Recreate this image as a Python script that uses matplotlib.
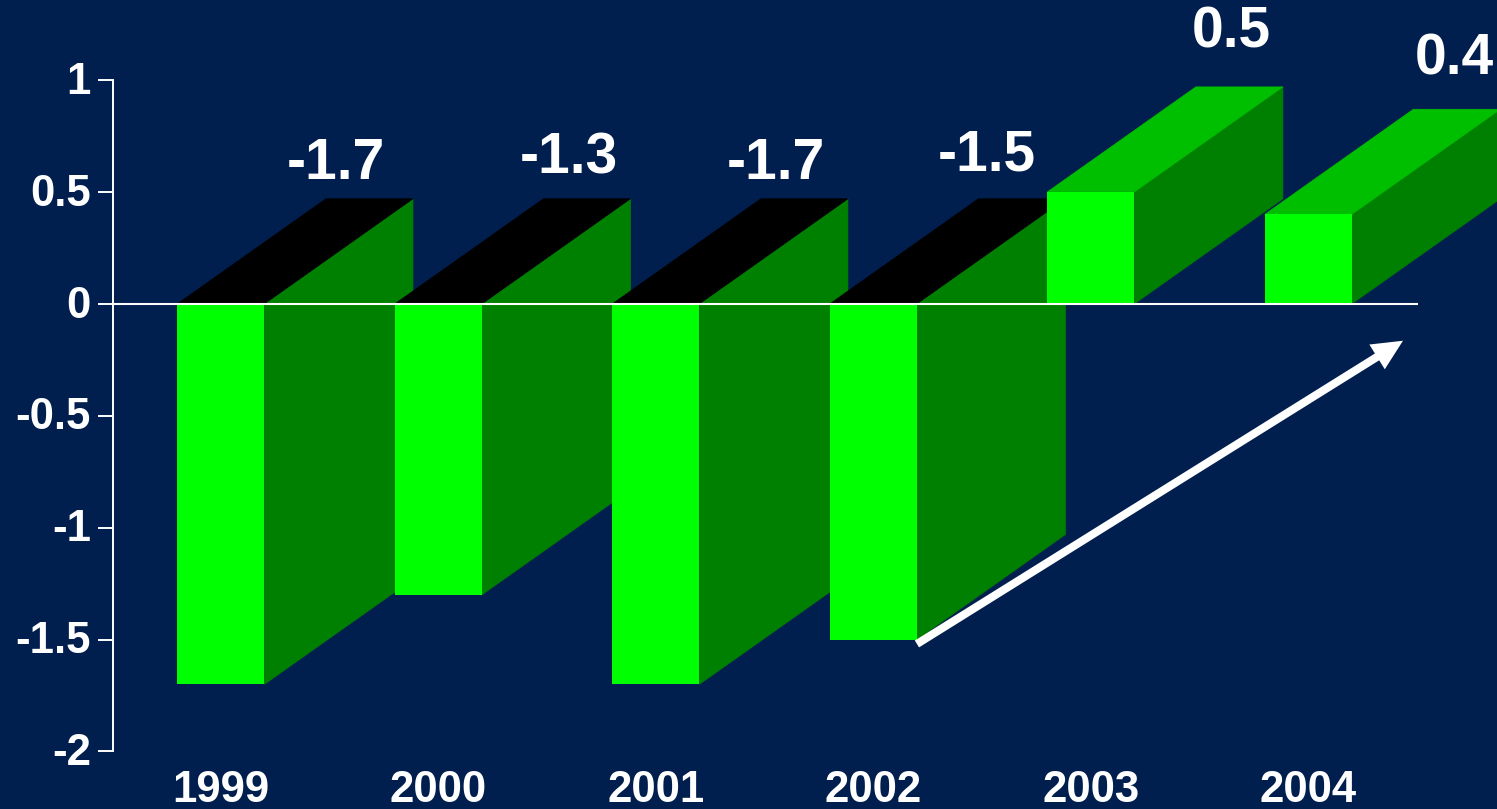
import matplotlib
matplotlib.use("Agg")
import matplotlib.pyplot as plt
from matplotlib.patches import Polygon
from matplotlib.transforms import ScaledTranslation

years = ["1999", "2000", "2001", "2002", "2003", "2004"]
values = [-1.7, -1.3, -1.7, -1.5, 0.5, 0.4]
y_ticks = [1, 0.5, 0, -0.5, -1, -1.5, -2]
y_tick_labels = ["1", "0.5", "0", "-0.5", "-1", "-1.5", "-2"]

BG = "#001E4E"
FRONT = "#00FF00"
SIDE = "#008000"
TOP_POS = "#00BF00"
TOP_NEG = "#000000"
WHITE = "#FFFFFF"

W, H, DPI = 1497, 809, 100
plt.rcParams["font.family"] = ["Liberation Sans", "DejaVu Sans"]
plt.rcParams["font.weight"] = "bold"

fig = plt.figure(figsize=(W / DPI, H / DPI), dpi=DPI, facecolor=BG)
ax = fig.add_axes([113 / W, 1 - 751.4 / H, 1305 / W, (751.4 - 80) / H], facecolor="none")

ax.set_xlim(-0.4965, 5.504)
ax.set_ylim(-2, 1)

bar_w = 87 / 217.5
dx = 148.5 / 217.5
dy = 105 / 223.8

for i, v in enumerate(values):
    z = 2 + i
    left, right = i - bar_w / 2, i + bar_w / 2
    top = max(v, 0)
    bottom = min(v, 0)
    # side face
    ax.add_patch(Polygon([(right, bottom), (right + dx, bottom + dy), (right + dx, top + dy), (right, top)],
                         closed=True, fc=SIDE, ec=SIDE, lw=0.5, zorder=z, clip_on=False))
    # top face
    ax.add_patch(Polygon([(left, top), (left + dx, top + dy), (right + dx, top + dy), (right, top)],
                         closed=True, fc=TOP_NEG if v < 0 else TOP_POS,
                         ec=TOP_NEG if v < 0 else TOP_POS, lw=0.5, zorder=z, clip_on=False))
    # front face
    ax.bar(i, v, width=bar_w, color=FRONT, zorder=z, clip_on=False)

# value labels: (dx, dy) offsets in points from the bar's front top centre
label_offsets = [(83, 100.3), (93.5, 104.8), (86, 100.3), (81.5, 106.8), (101, 114.8), (105, 111.3)]
for i, v in enumerate(values):
    off = label_offsets[i]
    ax.annotate(f"{v:g}", xy=(i, max(v, 0)), xytext=off, textcoords="offset points",
                ha="center", va="center", fontsize=41, fontweight="bold", color=WHITE,
                zorder=20, annotation_clip=False)

# axes
for s in ("top", "right", "bottom"):
    ax.spines[s].set_visible(False)
ax.spines["left"].set_color(WHITE)
ax.spines["left"].set_linewidth(1.4)
ax.spines["left"].set_zorder(15)
ax.axhline(0, color=WHITE, lw=1.5, zorder=15)
ax.set_yticks(y_ticks)
ax.set_yticklabels(y_tick_labels, fontsize=31.5, fontweight="bold", color=WHITE, va="center")
ax.tick_params(axis="y", length=10.5, width=1.4, color=WHITE, pad=5.5)
shift = ScaledTranslation(0, -1.6 / 72, fig.dpi_scale_trans)
for lab in ax.get_yticklabels():
    lab.set_transform(lab.get_transform() + shift)
ax.set_xticks(range(len(years)))
ax.set_xticklabels(years, fontsize=31.5, fontweight="bold", color=WHITE)
ax.tick_params(axis="x", length=0, pad=13.2)

# trend arrow
ax.annotate("", xy=(5.435, -0.165), xytext=(3.2, -1.52), xycoords="data", textcoords="data",
            arrowprops=dict(facecolor=WHITE, edgecolor=WHITE, width=5.8, headwidth=21,
                            headlength=22, shrink=0, lw=0),
            zorder=18, annotation_clip=False)

fig.savefig("out.png", dpi=DPI, facecolor=BG)
